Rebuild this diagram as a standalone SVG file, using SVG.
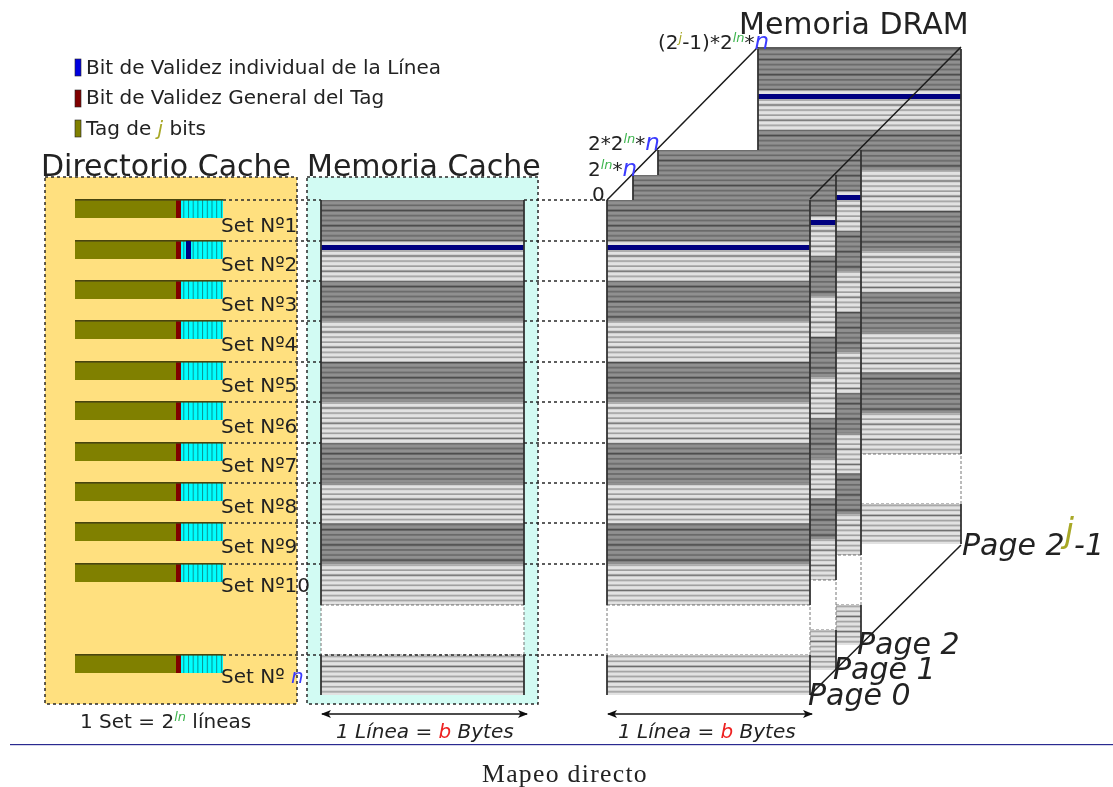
<svg xmlns="http://www.w3.org/2000/svg" xmlns:xlink="http://www.w3.org/1999/xlink" width="1113" height="787" viewBox="0 0 1113 787">
<style>
text{font-family:"DejaVu Sans","Liberation Sans",sans-serif;fill:#222}
.t{font-size:30px}.s{font-size:20px}.p{font-size:30px;font-style:italic}
.n{fill:#3a3aff;font-style:italic}.l{fill:#3fb54f;font-style:italic}.o{fill:#a8a828;font-style:italic}.r{fill:#ee2020;font-style:italic}
.dash{stroke:#2a2a2a;stroke-width:1.5;stroke-dasharray:3 3;fill:none}
.edge{stroke:#1a1a1a;stroke-width:1.5;fill:none}
.side{stroke:#333;stroke-width:1.8}
</style>
<defs>
<filter id="soft" x="-2%" y="-2%" width="104%" height="104%"><feGaussianBlur stdDeviation="0.5"/></filter>
<pattern id="dk" width="10" height="15.2" patternUnits="userSpaceOnUse"><rect width="10" height="15.2" fill="#909090"/><rect y="2" width="10" height="1.6" fill="#666"/><rect y="7" width="10" height="1.6" fill="#666"/><rect y="12" width="10" height="1.8" fill="#484848"/></pattern>
<pattern id="lt" width="10" height="15.2" patternUnits="userSpaceOnUse"><rect width="10" height="15.2" fill="#e2e2e2"/><rect y="2" width="10" height="1.5" fill="#999"/><rect y="7" width="10" height="1.5" fill="#999"/><rect y="12" width="10" height="1.6" fill="#666"/></pattern>
<pattern id="cy" width="4.7" height="18" patternUnits="userSpaceOnUse"><rect width="4.7" height="18" fill="#00ffff"/><rect width="1" height="18" fill="#0a8f8f"/></pattern>
<marker id="ah" viewBox="0 0 10 8" refX="9" refY="4" markerWidth="10" markerHeight="8" orient="auto-start-reverse" markerUnits="userSpaceOnUse"><path d="M0 0L10 4L0 8L2.5 4z" fill="#111"/></marker>
<g id="rows">
<rect y="200" width="203" height="41" fill="url(#dk)"/>
<rect y="241" width="203" height="40" fill="url(#lt)"/>
<rect y="245" width="203" height="5" fill="#000080"/>
<rect y="281" width="203" height="40" fill="url(#dk)"/>
<rect y="321" width="203" height="41" fill="url(#lt)"/>
<rect y="362" width="203" height="40" fill="url(#dk)"/>
<rect y="402" width="203" height="41" fill="url(#lt)"/>
<rect y="443" width="203" height="40" fill="url(#dk)"/>
<rect y="483" width="203" height="40" fill="url(#lt)"/>
<rect y="523" width="203" height="41" fill="url(#dk)"/>
<rect y="564" width="203" height="41" fill="url(#lt)"/>
<rect y="605" width="203" height="50" fill="#fff" stroke="#777" stroke-dasharray="3 2"/>
<rect y="655" width="203" height="40" fill="url(#lt)"/>
<path class="side" d="M0 200V605M203 200V605M0 655V695M203 655V695"/>
</g>
<g id="tag">
<rect x="75" y="0" width="101" height="18" fill="#808000"/>
<rect x="176" y="0" width="5" height="18" fill="#800000"/>
<rect x="181" y="0" width="42" height="18" fill="url(#cy)"/>
<rect x="75" y="-1" width="148" height="1.6" fill="#4a4510"/>
</g>
</defs>
<g filter="url(#soft)">
<g id="directorio"><rect x="45" y="177" width="252" height="527" fill="#ffe07f"/></g>
<g id="cache">
<rect x="307" y="177" width="231" height="527" fill="#d2fbf3"/>
<use xlink:href="#rows" href="#rows" x="321"/>
</g>
<g id="connectors">
<path class="dash" d="M223 200H321M524 200H607M223 241H321M524 241H607M223 281H321M524 281H607M223 321H321M524 321H607M223 362H321M524 362H607M223 402H321M524 402H607M223 443H321M524 443H607M223 483H321M524 483H607M223 523H321M524 523H607M223 564H321M524 564H607M223 655H607"/>
<rect class="dash" x="45" y="177" width="252" height="527"/>
<rect class="dash" x="307" y="177" width="231" height="527"/>
<path d="M322 714H527" stroke="#111" stroke-width="1.5" marker-start="url(#ah)" marker-end="url(#ah)"/>
<path d="M608 714H812" stroke="#111" stroke-width="1.5" marker-start="url(#ah)" marker-end="url(#ah)"/>
</g>
<g id="tags">
<use href="#tag" y="200"/><use href="#tag" y="241"/><use href="#tag" y="281"/><use href="#tag" y="321"/><use href="#tag" y="362"/><use href="#tag" y="402"/><use href="#tag" y="443"/><use href="#tag" y="483"/><use href="#tag" y="523"/><use href="#tag" y="564"/><use href="#tag" y="655"/>
<rect x="186" y="241" width="5" height="18" fill="#000080"/>
</g>
<g id="dram">
<rect x="758" y="47" width="203" height="4" fill="#5c5c5c"/>
<use href="#rows" x="758" y="-151"/>
<use href="#rows" x="658" y="-50"/>
<use href="#rows" x="633" y="-25"/>
<use href="#rows" x="607"/>
<path class="edge" d="M607 200L758 47M810 199L961 47M810 695L961 545"/>
</g>
<g id="legend">
<rect x="75" y="59" width="6" height="17" fill="#0000e0" stroke="#222" stroke-width=".6"/>
<rect x="75" y="90" width="6" height="17" fill="#800000" stroke="#222" stroke-width=".6"/>
<rect x="75" y="120" width="6" height="17" fill="#808000" stroke="#222" stroke-width=".6"/>
<text class="s" x="86" y="74">Bit de Validez individual de la Línea</text>
<text class="s" x="86" y="104">Bit de Validez General del Tag</text>
<text class="s" x="86" y="135">Tag de <tspan class="o">j</tspan> bits</text>
</g>
<g id="titles">
<text class="t" x="41" y="176">Directorio Cache</text>
<text class="t" x="307" y="176">Memoria Cache</text>
<text class="t" x="739" y="34">Memoria DRAM</text>
</g>
<g id="set-labels">
<text class="s" x="221" y="232">Set Nº1</text>
<text class="s" x="221" y="271">Set Nº2</text>
<text class="s" x="221" y="311">Set Nº3</text>
<text class="s" x="221" y="351">Set Nº4</text>
<text class="s" x="221" y="392">Set Nº5</text>
<text class="s" x="221" y="433">Set Nº6</text>
<text class="s" x="221" y="472">Set Nº7</text>
<text class="s" x="221" y="513">Set Nº8</text>
<text class="s" x="221" y="553">Set Nº9</text>
<text class="s" x="221" y="592">Set Nº10</text>
<text class="s" x="221" y="683">Set Nº <tspan class="n">n</tspan></text>
</g>
<g id="addresses">
<text class="s" x="592" y="201">0</text>
<text class="s" x="588" y="176">2<tspan class="l" font-size="13" dy="-7">ln</tspan><tspan dy="7">*</tspan><tspan class="n" font-size="23">n</tspan></text>
<text class="s" x="588" y="150">2*2<tspan class="l" font-size="13" dy="-7">ln</tspan><tspan dy="7">*</tspan><tspan class="n" font-size="23">n</tspan></text>
<text class="s" x="658" y="49">(2<tspan class="o" font-size="13" dy="-7">j</tspan><tspan dy="7">-1)*2</tspan><tspan class="l" font-size="13" dy="-7">ln</tspan><tspan dy="7">*</tspan><tspan class="n" font-size="23">n</tspan></text>
</g>
<g id="pages">
<text class="p" x="857" y="654">Page 2</text>
<text class="p" x="833" y="679">Page 1</text>
<text class="p" x="808" y="705">Page 0</text>
<text class="p" x="962" y="555">Page 2<tspan class="o" font-size="34" dy="-13">j</tspan><tspan dy="13">-1</tspan></text>
</g>
<g id="dimensions">
<text class="s" x="80" y="728">1 Set = 2<tspan class="l" font-size="13" dy="-7">ln</tspan><tspan dy="7"> líneas</tspan></text>
<text class="s" font-style="italic" x="336" y="738">1 Línea = <tspan class="r">b</tspan> Bytes</text>
<text class="s" font-style="italic" x="618" y="738">1 Línea = <tspan class="r">b</tspan> Bytes</text>
</g>
</g>
<rect x="10" y="744" width="1103" height="1.2" fill="#2a2a90"/>
<text x="482" y="782" font-size="25.7" letter-spacing="1.3" style="font-family:'Liberation Serif',serif">Mapeo directo</text>
</svg>
